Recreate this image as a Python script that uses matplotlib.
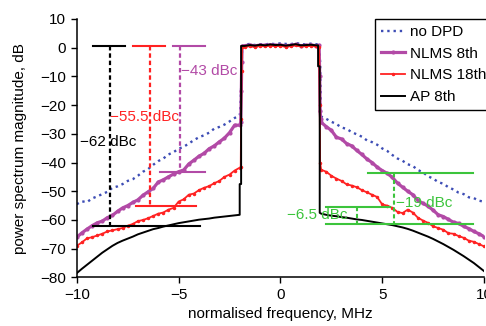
import matplotlib
matplotlib.use('Agg')
import matplotlib.pyplot as plt
import numpy as np

plt.rcParams['font.family'] = ['Liberation Sans', 'DejaVu Sans']
plt.rcParams['font.size'] = 11

# frequency grids (MHz)
f_left = np.arange(-10, -1.99, 0.25)
f_right = np.arange(2.0, 10.01, 0.25)
f_band = np.arange(-1.75, 1.76, 0.25)

# no DPD
nodpd_left = [-54.5, -53.5, -53.8, -52.5, -51.8, -51.0, -50.2, -48.8, -48.3, -47.5, -46.4,
              -45.8, -44.6, -43.2, -42.3, -40.8, -39.5, -38.6, -37.2, -36.4, -35.2, -34.5,
              -33.4, -32.2, -31.2, -30.5, -29.6, -28.2, -27.6, -26.8, -25.7, -24.5, -23.6]
nodpd_band = [1.0, 1.3, 0.9, 1.2, 1.1, 1.4, 1.2, 1.5, 1.3, 1.2, 1.6, 1.3, 1.1, 1.4, 1.2]
nodpd_right = [-24.0, -24.8, -25.8, -26.6, -27.8, -28.3, -29.4, -30.2, -31.0, -32.3, -32.9,
               -33.8, -35.1, -36.0, -37.4, -38.6, -39.4, -40.6, -41.2, -42.6, -43.4, -44.8,
               -45.6, -46.8, -47.4, -48.6, -49.4, -50.5, -51.0, -52.1, -52.4, -53.3, -53.6]
nodpd_edge_l = ([-1.97, -1.95, -1.92, -1.9, -1.88], [-22, -18, -12, -5, 0.5])
nodpd_edge_r = ([1.9, 1.95, 1.97, 1.99], [1.0, -5, -15, -22])

# NLMS 8th
nlms8_left = [-66.0, -64.5, -63.2, -62.0, -61.0, -60.4, -59.2, -58.4, -57.0, -55.8, -55.0,
              -53.9, -53.0, -51.4, -50.2, -49.0, -46.8, -46.0, -45.0, -44.0, -43.2, -42.6,
              -40.5, -39.2, -37.8, -36.8, -35.2, -34.2, -32.8, -31.5, -29.6, -27.0, -27.0]
nlms8_band = [0.7, 0.9, 0.6, 0.9, 0.8, 1.0, 0.8, 0.9, 0.7, 0.8, 1.1, 0.7, 0.8, 0.9, 0.7]
nlms8_right = [-26.0, -27.5, -28.8, -31.2, -31.8, -33.4, -34.2, -35.8, -37.2, -38.8, -40.0,
               -41.6, -42.8, -43.8, -45.2, -47.2, -48.6, -50.0, -51.2, -53.2, -54.2, -55.2,
               -56.6, -58.2, -58.8, -59.8, -60.8, -61.2, -62.2, -63.0, -64.0, -64.8, -65.8]
nlms8_edge_l = ([-1.95, -1.92, -1.9, -1.88], [-26, -15, -5, 0.5])
nlms8_edge_r = ([1.9, 1.93, 1.95, 1.98], [0.8, -10, -22, -25])

# NLMS 18th
nlms18_left = [-69.0, -67.8, -66.4, -66.0, -65.4, -64.8, -64.0, -63.6, -63.2, -62.8, -62.0,
               -61.4, -60.4, -60.0, -59.4, -58.6, -57.8, -57.4, -56.4, -55.8, -53.6, -52.8,
               -51.2, -50.8, -49.6, -48.8, -48.2, -47.2, -46.4, -45.0, -44.2, -42.8, -41.8]
nlms18_band = [0.3, 0.5, 0.2, 0.6, 0.4, 0.7, 0.5, 0.6, 0.3, 0.5, 0.8, 0.4, 0.5, 0.6, 0.4]
nlms18_right = [-42.5, -43.2, -44.6, -45.6, -46.4, -47.6, -48.0, -48.6, -49.6, -50.4, -51.2,
                -52.0, -54.6, -55.0, -55.8, -57.2, -57.6, -56.4, -57.4, -59.2, -60.2, -61.0,
                -62.2, -62.8, -63.4, -64.6, -64.8, -65.6, -66.2, -67.2, -67.6, -68.4, -69.2]
nlms18_edge_l = ([-1.95, -1.93, -1.91, -1.88], [-41.5, -25, -8, 0.2])
nlms18_edge_r = ([1.9, 1.93, 1.95], [0.3, -20, -40])

# AP 8th
ap8_left = [-78.5, -77.0, -75.6, -74.2, -72.8, -71.4, -70.2, -69.0, -68.0, -67.2, -66.5,
            -65.8, -65.0, -64.4, -63.8, -63.2, -62.8, -62.3, -61.9, -61.5, -61.1, -60.8,
            -60.5, -60.2, -59.9, -59.7, -59.5, -59.2, -59.0, -58.8, -58.6, -58.4, -58.2]
ap8_band = [0.6, 0.9, 0.7, 1.0, 0.8, 1.1, 0.9, 1.0, 0.7, 0.9, 1.2, 0.8, 0.9, 1.0, 0.8]
ap8_right = [-57.8, -58.2, -58.5, -58.7, -59.0, -59.2, -59.5, -59.8, -60.0, -60.3, -60.6,
             -60.9, -61.2, -61.5, -61.8, -62.2, -62.6, -63.1, -63.7, -64.4, -65.1, -65.8,
             -66.6, -67.5, -68.4, -69.4, -70.4, -71.5, -72.6, -73.8, -75.0, -76.4, -77.8]
ap8_edge_l = ([-2.0, -1.93, -1.93], [-47.5, -47.5, 0.6])
ap8_edge_r = ([1.85, 1.85, 1.93, 1.93], [0.8, -6.5, -6.5, -57.5])

# ACPR annotations: (level dBc, label)
acpr_left = [(-62, '\u221262 dBc'), (-55.5, '\u221255.5 dBc'), (-43, '\u221243 dBc')]
improvement = [('\u221219 dBc', -43.5, -61.5), ('\u22126.5 dBc', -55.5, -61.5)]

c_blue = '#3d4db5'
c_mag = '#b24aa6'
c_red = '#ff2222'
c_black = 'black'
c_green = '#3cc43c'


def series(left, edge_l, band, edge_r, right):
    f = np.concatenate([f_left, edge_l[0], f_band, edge_r[0], f_right])
    p = np.concatenate([left, edge_l[1], band, edge_r[1], right])
    return f, p


fig = plt.figure(figsize=(4.86, 3.26), dpi=100)
ax = fig.add_axes([0.158, 0.149, 0.838, 0.793])

f, p = series(nodpd_left, nodpd_edge_l, nodpd_band, nodpd_edge_r, nodpd_right)
ax.plot(f, p, color=c_blue, linestyle=':', lw=1.7, label='no DPD')
f, p = series(nlms8_left, nlms8_edge_l, nlms8_band, nlms8_edge_r, nlms8_right)
ax.plot(f, p, color=c_mag, lw=2.3, marker='.', markersize=4, label='NLMS 8th')
f, p = series(nlms18_left, nlms18_edge_l, nlms18_band, nlms18_edge_r, nlms18_right)
ax.plot(f, p, color=c_red, lw=1.3, marker='.', markersize=3, label='NLMS 18th')
f, p = series(ap8_left, ap8_edge_l, ap8_band, ap8_edge_r, ap8_right)
ax.plot(f, p, color=c_black, lw=1.4, label='AP 8th')

# left-hand measurement markers
ref = 0.5
dash = (0, (2, 1.3))
ax.plot([-9.2, -7.65], [ref, ref], color=c_black, lw=1.5)
ax.plot([-7.24, -5.68], [ref, ref], color=c_red, lw=1.5)
ax.plot([-5.28, -3.72], [ref, ref], color=c_mag, lw=1.5)
ax.plot([-8.39, -8.39], [ref, acpr_left[0][0]], color=c_black, lw=1.6, linestyle=dash)
ax.plot([-6.42, -6.42], [ref, acpr_left[1][0]], color=c_red, lw=1.6, linestyle=dash)
ax.plot([-4.95, -4.95], [ref, acpr_left[2][0]], color=c_mag, lw=1.6, linestyle=dash)
ax.plot([-9.2, -3.97], [-62, -62], color=c_black, lw=1.5)
ax.plot([-7.08, -4.13], [-55.3, -55.3], color=c_red, lw=1.5)
ax.plot([-5.93, -3.72], [-43.2, -43.2], color=c_mag, lw=1.5)
ax.text(-9.85, -33, acpr_left[0][1], color=c_black, va='center', ha='left')
ax.text(-8.39, -24, acpr_left[1][1], color=c_red, va='center', ha='left')
ax.text(-4.9, -8, acpr_left[2][1], color=c_mag, va='center', ha='left')

# right-hand improvement markers
ax.plot([4.3, 9.46], [-43.5, -43.5], color=c_green, lw=1.5)
ax.plot([2.26, 5.37], [-55.5, -55.5], color=c_green, lw=1.5)
ax.plot([2.26, 9.46], [-61.5, -61.5], color=c_green, lw=1.5)
ax.plot([5.57, 5.57], [improvement[0][1], improvement[0][2]], color=c_green, lw=1.5, linestyle=dash)
ax.plot([3.77, 3.77], [improvement[1][1], improvement[1][2]], color=c_green, lw=1.5, linestyle=dash)
ax.text(5.7, -54, improvement[0][0], color=c_green, va='center', ha='left')
ax.text(0.3, -58.2, improvement[1][0], color=c_green, va='center', ha='left')

ax.set_xlim(-10, 10)
ax.set_ylim(-80, 10)
ax.set_xticks([-10, -5, 0, 5, 10])
ax.set_yticks(np.arange(-80, 11, 10))
ax.spines['top'].set_visible(False)
ax.spines['right'].set_visible(False)
ax.spines['left'].set_linewidth(1.1)
ax.spines['bottom'].set_linewidth(1.1)
ax.tick_params(direction='out', length=4, width=1)
ax.set_xlabel('normalised frequency, MHz')
ax.set_ylabel('power spectrum magnitude, dB')
ax.yaxis.set_label_coords(-0.122, 0.5)

leg = ax.legend(loc='upper left', bbox_to_anchor=(0.732, 1.0), borderaxespad=0,
                fancybox=False, edgecolor='black', framealpha=1, handlelength=1.6,
                handletextpad=0.3, labelspacing=0.5, borderpad=0.4, fontsize=11)
leg.get_frame().set_linewidth(1.0)

fig.savefig('out.png', dpi=100)
